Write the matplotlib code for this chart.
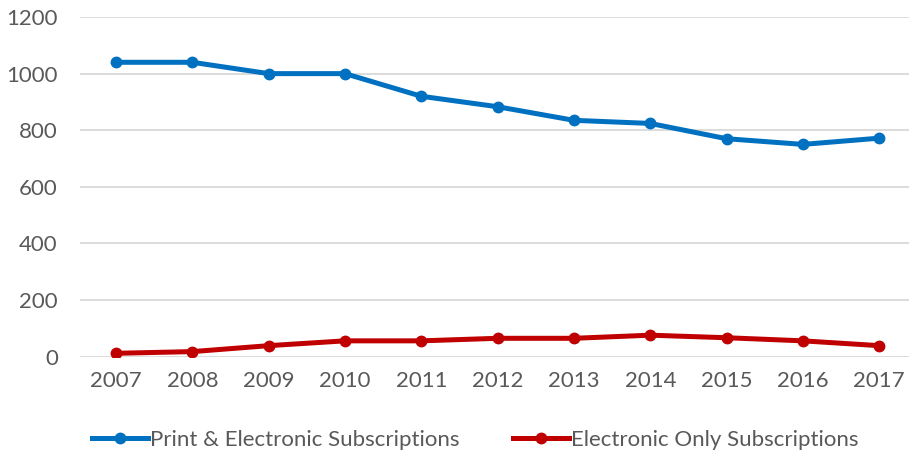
import matplotlib
matplotlib.use("Agg")
import matplotlib.pyplot as plt
from matplotlib.lines import Line2D

# ── Data ──────────────────────────────────────────────────────────────────
years = ["2007", "2008", "2009", "2010", "2011", "2012",
         "2013", "2014", "2015", "2016", "2017"]
print_electronic = [1040, 1040, 1000, 1000, 920, 883, 835, 824, 770, 750, 772]
electronic_only = [12, 18, 39, 56, 56, 65, 65, 76, 67, 56, 39]

BLUE = "#0070C0"
RED = "#C00000"
GRID = "#D9D9D9"
TEXT = "#595959"

plt.rcParams["font.family"] = ["Lato", "DejaVu Sans"]

W, H = 909, 458
fig = plt.figure(figsize=(W / 100, H / 100), dpi=100)
ax = fig.add_axes([80 / W, 1 - 356.7 / H, (W - 80) / W, (356.7 - 17) / H])

x = list(range(len(years)))
ax.plot(x, print_electronic, color=BLUE, lw=3.6, marker="o", ms=7.5,
        solid_capstyle="round", zorder=3)
ax.plot(x, electronic_only, color=RED, lw=3.6, marker="o", ms=7.5,
        solid_capstyle="round", zorder=3)

ax.set_ylim(0, 1200)
ax.set_yticks(range(0, 1201, 200))
ax.set_xlim(-0.472, 10.39)
ax.set_xticks(x)
ax.set_xticklabels(years)
ax.grid(axis="y", color=GRID, lw=1.3)
ax.set_axisbelow(True)
for s in ax.spines.values():
    s.set_visible(False)
ax.tick_params(length=0, labelsize=16, colors=TEXT)
ax.tick_params(axis="y", pad=16)
ax.tick_params(axis="x", pad=10)

handles = [
    Line2D([], [], color=BLUE, lw=3.6, marker="o", ms=7.5),
    Line2D([], [], color=RED, lw=3.6, marker="o", ms=7.5),
]
fig.legend(handles, ["Print & Electronic Subscriptions",
                     "Electronic Only Subscriptions"],
           loc="center", bbox_to_anchor=(0.523, 1 - 440 / H), ncol=2,
           frameon=False, fontsize=16, labelcolor=TEXT, handlelength=2.5,
           handletextpad=0.1, columnspacing=2.4)

fig.savefig("out.png", dpi=100, facecolor="white")
